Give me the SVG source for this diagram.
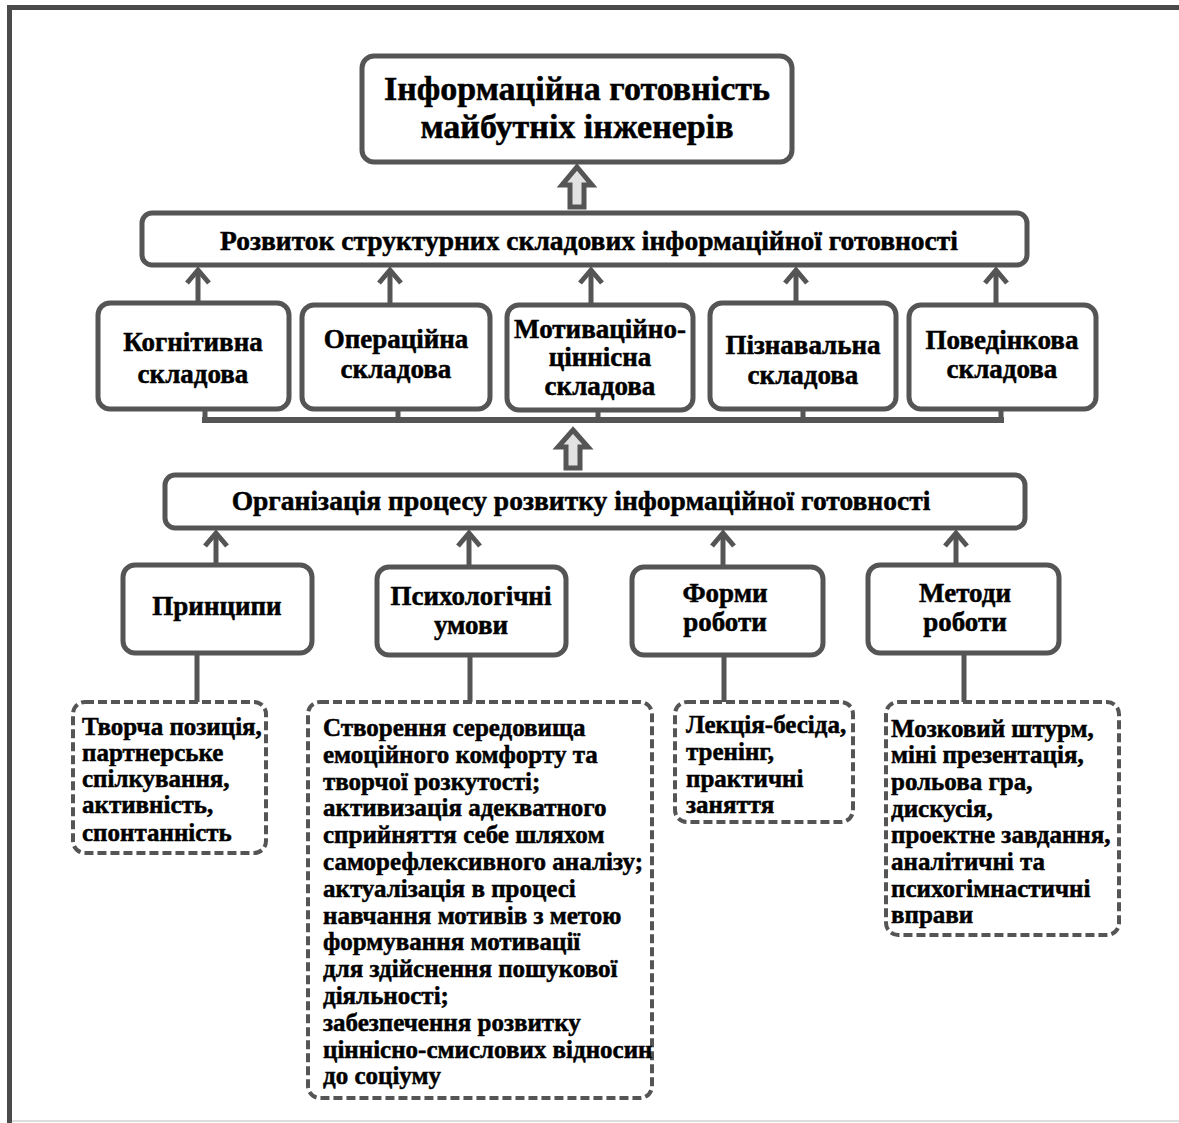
<svg xmlns="http://www.w3.org/2000/svg" width="1179" height="1123" viewBox="0 0 1179 1123">
<style>
.box{fill:#fff;stroke:#555;stroke-width:5}
.dbox{fill:#fff;stroke:#555;stroke-width:4;stroke-dasharray:9 4}
.ln{fill:none;stroke:#555;stroke-width:5}
.arr{fill:none;stroke:#555;stroke-width:5;marker-end:url(#chev)}
.hol{fill:#e2e2e2;stroke:#555;stroke-width:5;stroke-linejoin:miter}
text{font-family:"Liberation Serif","Times New Roman",serif;font-weight:bold;fill:#000;stroke:#000;stroke-width:0.5}
.t1{font-size:34px;text-anchor:middle}
.t2{font-size:27.5px;text-anchor:middle}
.t3{font-size:27px;text-anchor:middle}
.t4{font-size:25px}
</style>
<defs>
<marker id="chev" markerUnits="userSpaceOnUse" viewBox="-16 -16 32 32" markerWidth="32" markerHeight="32" refX="0" refY="0" orient="auto" overflow="visible">
<path d="M-13,-11 L0,0 L-13,11" fill="none" stroke="#555" stroke-width="5"/>
</marker>
</defs>
<rect width="1179" height="1123" fill="#fff"/>
<g id="frame">
<line x1="9.5" y1="5" x2="9.5" y2="1123" stroke="#4a4a4a" stroke-width="5"/>
<line x1="7" y1="7.5" x2="1179" y2="7.5" stroke="#4a4a4a" stroke-width="5"/>
<line x1="12" y1="1121" x2="1179" y2="1121" stroke="#ddd" stroke-width="2"/>
</g>
<g id="connectors">
<polygon class="hol" points="577,167 592,185 584,185 584,207 570,207 570,185 562,185"/>
<path class="arr" d="M198,303 V270"/>
<path class="arr" d="M390,305 V270"/>
<path class="arr" d="M591,305 V270"/>
<path class="arr" d="M796,303 V270"/>
<path class="arr" d="M996,305 V270"/>
<path class="ln" d="M205,409 V420 M398,409 V420 M598,409 V420 M803,409 V420 M1001,409 V420"/>
<line x1="202" y1="420" x2="1004" y2="420" stroke="#555" stroke-width="6"/>
<polygon class="hol" points="573,430 588,447 580,447 580,468 566,468 566,447 558,447"/>
<path class="arr" d="M216,565 V533"/>
<path class="arr" d="M469,567 V533"/>
<path class="arr" d="M723,567 V533"/>
<path class="arr" d="M956,565 V533"/>
<path class="ln" d="M197,653 V702 M470,655 V702 M724,655 V702 M964,653 V702"/>
</g>
<g id="n-top">
<rect class="box" x="362" y="56" width="430" height="106" rx="12"/>
<text class="t1" x="577" y="100">Інформаційна готовність</text>
<text class="t1" x="577" y="138">майбутніх інженерів</text>
</g>
<g id="n-rozvytok">
<rect class="box" x="142" y="213" width="885" height="52" rx="10"/>
<text class="t2" x="589" y="250">Розвиток структурних складових інформаційної готовності</text>
</g>
<g id="n-kogn">
<rect class="box" x="98" y="303" width="191" height="106" rx="12"/>
<text class="t3" x="193" y="351">Когнітивна</text>
<text class="t3" x="193" y="383">складова</text>
</g>
<g id="n-oper">
<rect class="box" x="302" y="305" width="188" height="104" rx="12"/>
<text class="t3" x="396" y="348">Операційна</text>
<text class="t3" x="396" y="378">складова</text>
</g>
<g id="n-motyv">
<rect class="box" x="507" y="305" width="186" height="105" rx="12"/>
<text class="t3" x="600" y="338">Мотиваційно-</text>
<text class="t3" x="600" y="366">ціннісна</text>
<text class="t3" x="600" y="395">складова</text>
</g>
<g id="n-pizn">
<rect class="box" x="710" y="303" width="186" height="106" rx="12"/>
<text class="t3" x="803" y="354">Пізнавальна</text>
<text class="t3" x="803" y="384">складова</text>
</g>
<g id="n-poved">
<rect class="box" x="909" y="305" width="187" height="104" rx="12"/>
<text class="t3" x="1002" y="349">Поведінкова</text>
<text class="t3" x="1002" y="378">складова</text>
</g>
<g id="n-org">
<rect class="box" x="165" y="475" width="860" height="53" rx="10"/>
<text class="t2" x="581" y="510">Організація процесу розвитку інформаційної готовності</text>
</g>
<g id="n-pryntsypy">
<rect class="box" x="123" y="565" width="189" height="88" rx="12"/>
<text class="t3" x="217" y="615">Принципи</text>
</g>
<g id="n-psykh">
<rect class="box" x="377" y="567" width="189" height="88" rx="12"/>
<text class="t3" x="471" y="605">Психологічні</text>
<text class="t3" x="471" y="634">умови</text>
</g>
<g id="n-formy">
<rect class="box" x="632" y="567" width="191" height="88" rx="12"/>
<text class="t3" x="725" y="602">Форми</text>
<text class="t3" x="725" y="631">роботи</text>
</g>
<g id="n-metody">
<rect class="box" x="868" y="565" width="191" height="88" rx="12"/>
<text class="t3" x="965" y="602">Методи</text>
<text class="t3" x="965" y="631">роботи</text>
</g>
<g id="n-d1">
<rect class="dbox" x="73" y="702" width="193" height="151" rx="12"/>
<text class="t4" x="82" y="735">Творча позиція,</text>
<text class="t4" x="82" y="761">партнерське</text>
<text class="t4" x="82" y="787">спілкування,</text>
<text class="t4" x="82" y="813">активність,</text>
<text class="t4" x="82" y="841">спонтанність</text>
</g>
<g id="n-d2">
<rect class="dbox" x="308" y="702" width="344" height="396" rx="12"/>
<text class="t4" x="323" y="736">Створення середовища</text>
<text class="t4" x="323" y="763">емоційного комфорту та</text>
<text class="t4" x="323" y="790">творчої розкутості;</text>
<text class="t4" x="323" y="816">активизація адекватного</text>
<text class="t4" x="323" y="843">сприйняття себе шляхом</text>
<text class="t4" x="323" y="870">саморефлексивного аналізу;</text>
<text class="t4" x="323" y="897">актуалізація в процесі</text>
<text class="t4" x="323" y="924">навчання мотивів з метою</text>
<text class="t4" x="323" y="950">формування мотивації</text>
<text class="t4" x="323" y="977">для здійснення пошукової</text>
<text class="t4" x="323" y="1004">діяльності;</text>
<text class="t4" x="323" y="1031">забезпечення розвитку</text>
<text class="t4" x="323" y="1058">ціннісно-смислових відносин</text>
<text class="t4" x="323" y="1084">до соціуму</text>
</g>
<g id="n-d3">
<rect class="dbox" x="675" y="702" width="178" height="120" rx="12"/>
<text class="t4" x="686" y="733">Лекція-бесіда,</text>
<text class="t4" x="686" y="760">тренінг,</text>
<text class="t4" x="686" y="787">практичні</text>
<text class="t4" x="686" y="813">заняття</text>
</g>
<g id="n-d4">
<rect class="dbox" x="886" y="702" width="233" height="233" rx="12"/>
<text class="t4" x="891" y="737">Мозковий штурм,</text>
<text class="t4" x="891" y="763">міні презентація,</text>
<text class="t4" x="891" y="790">рольова гра,</text>
<text class="t4" x="891" y="817">дискусія,</text>
<text class="t4" x="891" y="843">проектне завдання,</text>
<text class="t4" x="891" y="870">аналітичні та</text>
<text class="t4" x="891" y="897">психогімнастичні</text>
<text class="t4" x="891" y="923">вправи</text>
</g>
</svg>
